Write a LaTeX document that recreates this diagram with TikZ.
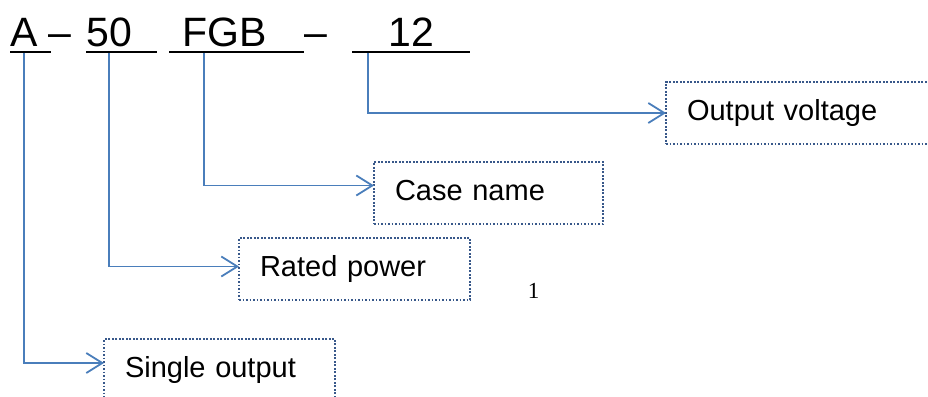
\documentclass[tikz,border=0pt]{standalone}
\usepackage{fontspec}
\setmainfont{Liberation Sans}
\newfontfamily\pagenumfont{Liberation Serif}
\usetikzlibrary{arrows.meta}
\definecolor{linkc}{RGB}{74,126,187}
\definecolor{boxc}{RGB}{56,88,138}
\begin{document}
\begin{tikzpicture}[x=1pt,y=-1pt,
  code/.style={font=\fontsize{41}{41}\selectfont, inner sep=0pt, anchor=base},
  uline/.style={line width=2.8pt, black},
  link/.style={draw=linkc, line width=1.8pt, -{Straight Barb[length=16pt,width=20pt]}},
  infobox/.style={draw=boxc, line width=2.6pt, dash pattern=on 1.7pt off 1.8pt,
    rectangle, anchor=north west, minimum height=62pt, inner xsep=21pt, inner ysep=0pt,
    align=left, text height=21pt, text depth=6pt, outer sep=0pt,
    font=\fontsize{29}{29}\selectfont}]
\path[use as bounding box, clip] (0,0) rectangle (928,396);

% code text
\node[code] (tA)   at (24.5,47) {A};
\node[code] (d1)   at (60,47)   {–};
\node[code] (t50)  at (109.5,47) {50};
\node[code] (tFGB) at (225,47)  {FGB};
\node[code] (d2)   at (316,47)  {–};
\node[code] (t12)  at (411.5,47) {12};

% underlines
\draw[uline] (10,52) -- (51,52);
\draw[uline] (86,52) -- (157,52);
\draw[uline] (169,52) -- (304,52);
\draw[uline] (352,52) -- (470,52);

\coordinate (cA)   at (24,53);
\coordinate (c50)  at (109,53);
\coordinate (cFGB) at (204,53);
\coordinate (c12)  at (368,53);

% boxes
\node[infobox, text width=248pt] (ov) at (666,82)  {Output voltage};
\node[infobox, text width=187pt] (cn) at (374,162) {Case name};
\node[infobox, text width=189pt] (rp) at (239,238) {Rated power};
\node[infobox, text width=189pt] (so) at (104,339) {Single output};

% page number
\node[font=\pagenumfont\fontsize{23}{23}\selectfont, inner sep=0pt, anchor=base] (pg) at (533.5,298) {1};

% connectors
\draw[link] (cA)   |- ([yshift=7pt]so.west);
\draw[link] (c50)  |- ([yshift=2.5pt]rp.west);
\draw[link] (cFGB) |- ([yshift=7.5pt]cn.west);
\draw[link] (c12)  |- (ov.west);
\end{tikzpicture}
\end{document}
